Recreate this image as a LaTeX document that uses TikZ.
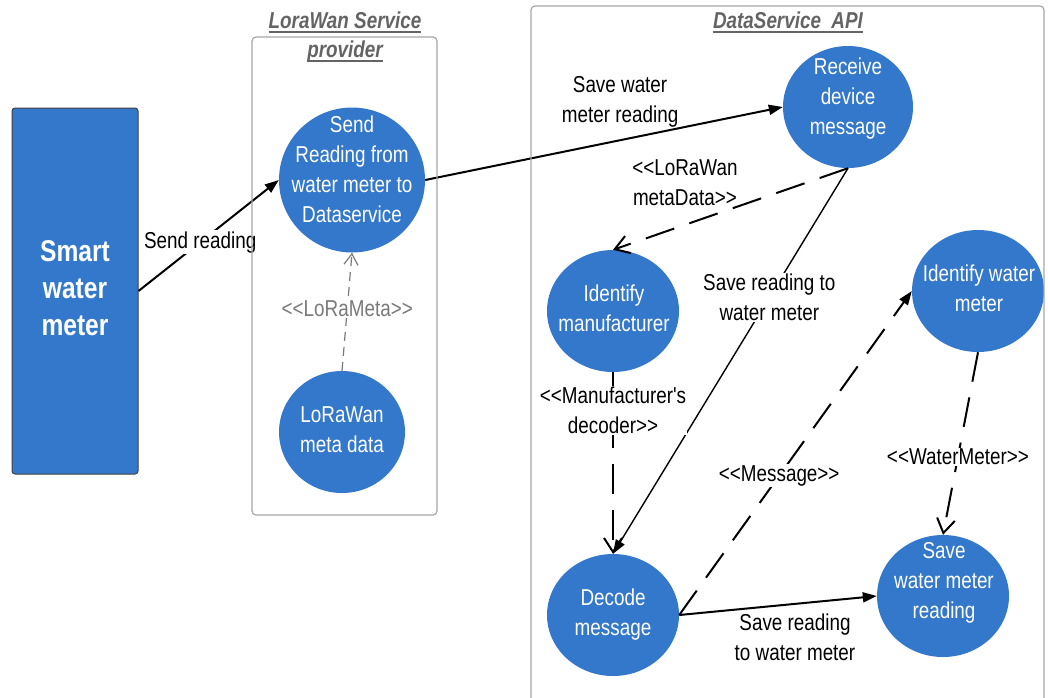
\documentclass[tikz,border=0pt]{standalone}
\usepackage{fontspec}
\newfontfamily\uifont{Liberation Sans}[FakeStretch=0.82]
\usetikzlibrary{arrows.meta,shapes.geometric}

\definecolor{ucblue}{HTML}{3478CB}
\definecolor{framegray}{HTML}{A6A6A6}
\definecolor{titlegray}{HTML}{646464}
\definecolor{metagray}{HTML}{7A7A7A}

% underlined frame title line
\newcommand\titleline[1]{\setbox0\hbox{#1}\rlap{\color{titlegray}\rule[-5pt]{\wd0}{1.6pt}}\box0}

\begin{document}
\begin{tikzpicture}[x=1pt,y=-1pt,
  font=\uifont\fontsize{23}{30}\selectfont,
  usecase/.style={ellipse, fill=ucblue, draw=none, inner sep=0pt,
    minimum width=132pt, minimum height=122pt},
  uctext/.style={text=white, align=center, inner sep=0pt},
  frame/.style={draw=framegray, line width=1.2pt, rounded corners=4pt},
  frametitle/.style={text=titlegray, inner sep=0pt, anchor=base,
    font=\uifont\fontsize{23}{30}\selectfont\bfseries\itshape},
  flow/.style={draw=black, line width=2pt, -{Triangle[length=14pt,width=10pt]}},
  thinflow/.style={draw=black, line width=1.4pt, -{Triangle[length=14pt,width=10pt]}},
  dep/.style={draw=black, line width=2pt, dash pattern=on 30pt off 16pt,
    -{Straight Barb[length=14pt,width=18pt]}},
  dashflow/.style={draw=black, line width=2pt, dash pattern=on 30pt off 16pt,
    -{Triangle[length=14pt,width=10pt]}},
  metadep/.style={draw=metagray, line width=1.2pt, dash pattern=on 9pt off 6pt,
    -{Straight Barb[length=11pt,width=14pt]}},
  onlabel/.style={fill=white, inner sep=1pt, align=center},
  sidelabel/.style={inner sep=0pt, align=center},
]
\useasboundingbox (0,0) rectangle (1048,697);

% device
\node[draw=black!75, line width=1pt, fill=ucblue, rounded corners=3pt,
  minimum width=126pt, minimum height=366pt, inner sep=0pt] (meter) at (75,291) {};
\node[text=white, align=center, inner sep=0pt,
  font=\uifont\fontsize{30}{37}\selectfont\bfseries] (metertxt) at (75,288) {Smart\\water\\meter};

% use cases
\node[usecase, minimum width=146pt, minimum height=145pt] (send) at (352,180) {};
\node[uctext] (sendtxt) at (352,169) {Send\\Reading from\\water meter to\\Dataservice};
\node[usecase, minimum width=126pt] (meta) at (342,432) {};
\node[uctext] (metatxt) at (342,430) {LoRaWan\\meta data};
\node[usecase, minimum width=130pt] (recv) at (848,107) {};
\node[uctext] (recvtxt) at (848,99) {Receive\\device\\message};
\node[usecase] (manu) at (613,311) {};
\node[uctext] (manutxt) at (614,308) {Identify\\manufacturer};
\node[usecase] (decode) at (613,615) {};
\node[uctext] (decodetxt) at (613,615) {Decode\\message};
\node[usecase] (wmeter) at (978,291) {};
\node[uctext] (wmetertxt) at (979,288) {Identify water\\meter};
\node[usecase] (save) at (943,596) {};
\node[uctext] (savetxt) at (944,583) {Save\\water meter\\reading};

% connectors
\draw[flow] (meter.east) -- node[onlabel, pos=0.44] (lblsend) {Send reading} (send.west);
\draw[flow] (send.east) -- node[sidelabel, pos=0.545, yshift=38pt] (lblsavewm) {Save water\\meter reading} (recv.west);
\draw[metadep] (meta.north) -- node[onlabel, text=metagray, pos=0.525] (lblmeta) {<<LoRaMeta>>} (send.south);
\draw[dep] (recv.south) -- node[sidelabel, pos=0.694, yshift=42pt] (lbllora) {<<LoRaWan\\metaData>>} (manu.north);
\draw[thinflow] (recv.south) -- node[onlabel, pos=0.335] (lblsrw) {Save reading to\\water meter} (decode.north);
\draw[dep] (manu.south) -- node[onlabel, pos=0.21] (lbldec) {<<Manufacturer's\\decoder>>} (decode.north);
\draw[dashflow] (decode.east) -- node[onlabel, pos=0.43] (lblmsg) {<<Message>>} (wmeter.west);
\draw[dep] (wmeter.south) -- node[onlabel, pos=0.574] (lblwm) {<<WaterMeter>>} (save.north);
\draw[flow] (decode.east) -- node[sidelabel, pos=0.586, yshift=-33pt] (lblsrt) {Save reading\\to water meter} (save.west);

% system boundaries
\draw[frame] (252,37) rectangle (437,515);
\draw[frame] (531,6) rectangle (1044,720);
\node[frametitle] (lwtitle) at (345,28) {\titleline{LoraWan Service}};
\node[frametitle] (lwtitleb) at (345,57) {\titleline{provider}};
\node[frametitle] (dstitle) at (788,28) {\titleline{DataService\ \ API}};
\end{tikzpicture}
\end{document}
